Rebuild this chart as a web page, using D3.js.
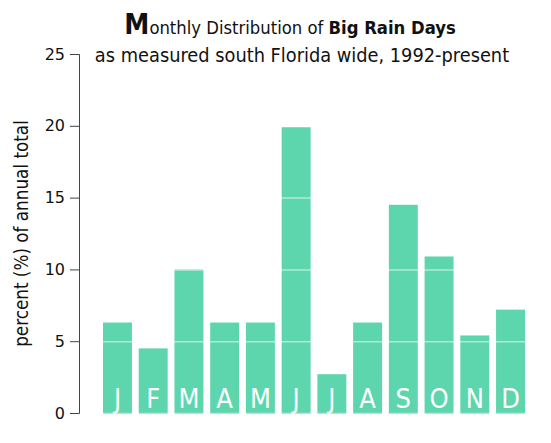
<!DOCTYPE html>
<html>
<head>
<meta charset="utf-8">
<script src="https://cdn.jsdelivr.net/npm/d3@7"></script>
<style>
  body { margin: 0; background: #fff; }
  text { font-family: "DejaVu Sans Condensed", "DejaVu Sans", sans-serif; }
</style>
</head>
<body>
<svg id="chart" width="551" height="443"></svg>
<script>
const months = ["J", "F", "M", "A", "M", "J", "J", "A", "S", "O", "N", "D"];
const percents = [6.3, 4.5, 10.0, 6.3, 6.3, 19.9, 2.7, 6.3, 14.5, 10.9, 5.4, 7.2];
const yTicks = [0, 5, 10, 15, 20, 25];

const width = 551;
const height = 443;
const margin = {top: 54, right: 26, bottom: 30, left: 79};

const svg = d3.select("#chart");

const x = d3.scaleBand()
    .domain(d3.range(months.length))
    .range([margin.left + 24, width - margin.right])
    .paddingInner(0.19)
    .paddingOuter(0);

const y = d3.scaleLinear()
    .domain([0, 25])
    .range([height - margin.bottom, margin.top]);

// bars
svg.append("g")
    .selectAll("rect")
    .data(percents)
    .join("rect")
    .attr("x", (d, i) => x(i))
    .attr("y", d => y(d))
    .attr("width", x.bandwidth())
    .attr("height", d => y(0) - y(d) + 1)
    .attr("fill", "#5dd6ad");

// white grid lines over the bars
svg.append("g")
    .selectAll("line")
    .data(yTicks.slice(0, 5))
    .join("line")
    .attr("x1", margin.left)
    .attr("x2", width)
    .attr("y1", d => y(d) + 0.5)
    .attr("y2", d => y(d) + 0.5)
    .attr("stroke", "#fff")
    .attr("stroke-opacity", 0.5)
    .attr("stroke-width", 1.5);

// month letters
svg.append("g")
    .selectAll("text")
    .data(months)
    .join("text")
    .attr("x", (d, i) => x(i) + x.bandwidth() / 2)
    .attr("y", y(0) - 5)
    .attr("text-anchor", "middle")
    .attr("fill", "#fff")
    .attr("font-size", 27)
    .text(d => d);

// y axis
const yAxis = svg.append("g")
    .attr("transform", `translate(${margin.left},0)`)
    .call(d3.axisLeft(y).tickValues(yTicks).tickSize(9).tickPadding(5));
yAxis.selectAll("path, line").attr("stroke", "#444");
yAxis.selectAll("text").attr("font-size", 16).attr("fill", "#111")
    .style("font-family", "'DejaVu Sans', sans-serif");

svg.append("text")
    .attr("transform", `translate(28,${(y(0) + y(25)) / 2}) rotate(-90)`)
    .attr("text-anchor", "middle")
    .attr("font-size", 18.7)
    .attr("fill", "#111")
    .text("percent (%) of annual total");

// title
const title = svg.append("text")
    .attr("x", 290)
    .attr("y", 34)
    .attr("text-anchor", "middle")
    .attr("fill", "#111")
    .attr("font-size", 18.3);
title.append("tspan").attr("font-size", 28).attr("font-weight", "bold").text("M");
title.append("tspan").text("onthly Distribution of ");
title.append("tspan").attr("font-weight", "bold").text("Big Rain Days");

svg.append("text")
    .attr("x", 302)
    .attr("y", 62)
    .attr("text-anchor", "middle")
    .attr("fill", "#111")
    .attr("font-size", 19.8)
    .text("as measured south Florida wide, 1992-present");
</script>
</body>
</html>
